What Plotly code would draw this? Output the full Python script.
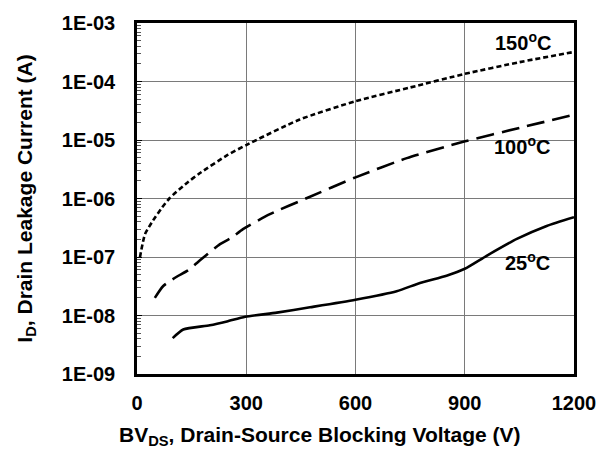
import math
import plotly.graph_objects as go

# ---- data ----
v_150 = [8, 22, 44, 68, 90, 132, 172, 250, 300, 447, 600, 750, 900, 1050, 1200]
i_150 = [9.8e-8, 2.45e-7, 4.2e-7, 6.9e-7, 1.02e-6, 1.74e-6, 2.7e-6, 5.6e-6, 8.2e-6,
         2.24e-5, 4.6e-5, 7.9e-5, 1.35e-4, 2.14e-4, 3.2e-4]

v_100 = [49, 72, 109, 140, 178, 228, 260, 291, 365, 467, 600, 741, 901, 1052, 1200]
i_100 = [2.0e-8, 3.2e-8, 4.6e-8, 5.9e-8, 9.3e-8, 1.66e-7, 2.14e-7, 3.0e-7, 5.4e-7,
         1.02e-6, 2.3e-6, 4.9e-6, 9.5e-6, 1.62e-5, 2.7e-5]

v_25 = [98, 127, 200, 247, 297, 384, 475, 600, 713, 777, 850, 900, 960, 1043, 1125, 1200]
i_25 = [4.1e-9, 5.75e-9, 6.8e-9, 7.9e-9, 9.5e-9, 1.12e-8, 1.38e-8, 1.86e-8, 2.6e-8,
        3.6e-8, 4.8e-8, 6.3e-8, 1.05e-7, 2.04e-7, 3.4e-7, 4.8e-7]

x_ticks = [0, 300, 600, 900, 1200]
y_ticks = [1e-9, 1e-8, 1e-7, 1e-6, 1e-5, 1e-4, 1e-3]
y_ticktext = ["1E-09", "1E-08", "1E-07", "1E-06", "1E-05", "1E-04", "1E-03"]

labels = ["150<sup>o</sup>C", "100<sup>o</sup>C", "25<sup>o</sup>C"]
label_v = [1060, 1057, 1071]
label_i = [4.8e-4, 8.1e-6, 8.5e-8]

FONT = "Liberation Sans, Arial, sans-serif"

fig = go.Figure()
fig.add_trace(go.Scatter(x=v_150, y=i_150, mode="lines",
                         line=dict(color="black", width=2.6, dash="5px,3px", shape="spline", smoothing=0.6)))
fig.add_trace(go.Scatter(x=v_100, y=i_100, mode="lines",
                         line=dict(color="black", width=2.6, dash="18px,8px", shape="spline", smoothing=0.6)))
fig.add_trace(go.Scatter(x=v_25, y=i_25, mode="lines",
                         line=dict(color="black", width=2.6, shape="spline", smoothing=0.6)))

minor_vals = [k * 10.0 ** e for e in range(-9, -3) for k in range(2, 10)]

fig.update_xaxes(range=[0, 1200], tickvals=x_ticks, showgrid=True, gridcolor="#7a7a7a", gridwidth=1,
                 showline=True, linecolor="black", linewidth=2.6, mirror=True, ticks="",
                 zeroline=False, ticklabelstandoff=9,
                 tickfont=dict(family=FONT, size=20, color="black", weight="bold"))
fig.update_yaxes(type="log", range=[-9, -3], tickvals=y_ticks, ticktext=y_ticktext,
                 showgrid=True, gridcolor="#7a7a7a", gridwidth=1,
                 showline=True, linecolor="black", linewidth=2.6, mirror=True,
                 ticks="inside", ticklen=5, tickcolor="black",
                 minor=dict(tickvals=minor_vals, ticks="inside", ticklen=4, tickcolor="#555", showgrid=False),
                 zeroline=False, ticklabelstandoff=15,
                 tickfont=dict(family=FONT, size=20, color="black", weight="bold"))

for txt, xv, yv in zip(labels, label_v, label_i):
    fig.add_annotation(x=xv, y=math.log10(yv), text=txt, showarrow=False,
                       font=dict(family=FONT, size=20, color="black", weight="bold"))

fig.add_annotation(xref="paper", yref="paper", x=0.419, y=-0.178, xanchor="center", yanchor="middle",
                   text="BV<sub>DS</sub>, Drain-Source Blocking Voltage (V)", showarrow=False,
                   font=dict(family=FONT, size=21, color="black", weight="bold"))
fig.add_annotation(xref="paper", yref="paper", x=-0.256, y=0.5, xanchor="center", yanchor="middle",
                   textangle=-90,
                   text="I<sub>D</sub>, Drain Leakage Current (A)", showarrow=False,
                   font=dict(family=FONT, size=21, color="black", weight="bold"))

fig.update_layout(width=608, height=453, margin=dict(l=137, r=34, t=21, b=79),
                  paper_bgcolor="white", plot_bgcolor="white", showlegend=False)

fig.write_html("out.html")
